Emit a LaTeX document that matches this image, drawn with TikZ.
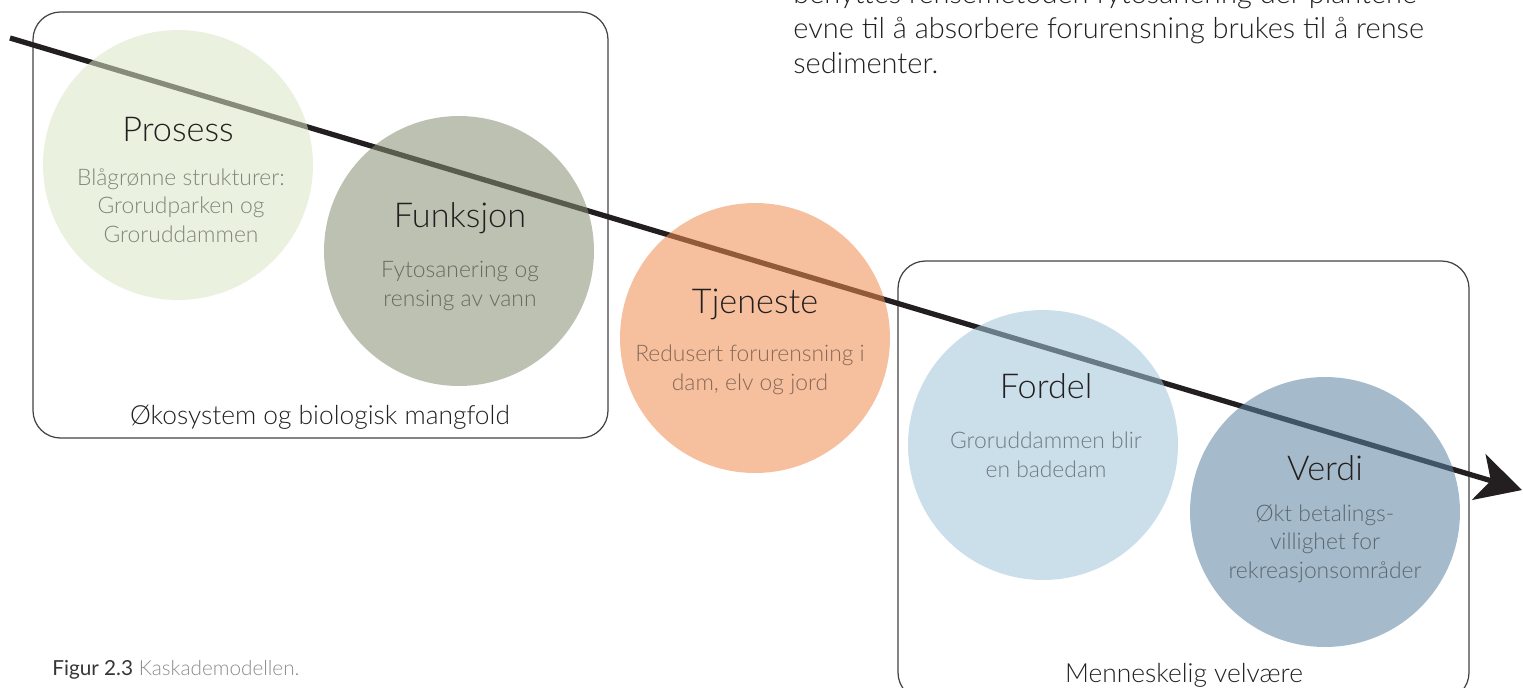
\documentclass[tikz,border=0pt]{standalone}
\usepackage{fontspec}
\setmainfont{Lato}[UprightFont=* Light, BoldFont=*]
\usetikzlibrary{arrows.meta}
\definecolor{prosessc}{RGB}{217,230,195}
\definecolor{funksjonc}{RGB}{135,142,115}
\definecolor{tjenestec}{RGB}{239,139,79}
\definecolor{fordelc}{RGB}{160,197,217}
\definecolor{verdic}{RGB}{91,131,160}
\definecolor{inkc}{RGB}{35,31,32}
\begin{document}
\begin{tikzpicture}[x=0.02cm,y=-0.02cm,
  ball/.style={circle,minimum size=5.4cm,inner sep=0pt,fill opacity=0.55},
  title/.style={anchor=base,inner sep=0pt,text=inkc,font=\fontsize{19.5}{22}\selectfont},
  sub/.style={anchor=base,inner sep=0pt,align=center,text=black,text opacity=0.45,font=\fontsize{13}{16}\selectfont},
  boxlabel/.style={anchor=base,inner sep=0pt,text=inkc,font=\fontsize{15}{18}\selectfont},
  frame/.style={draw=inkc!85,line width=0.7pt,rounded corners=0.55cm}]
\useasboundingbox (0,0) rectangle (1523,687);
\clip (0,0) rectangle (1523,687);
% boxes
\draw[frame] (33,12) rectangle (608,438);
\draw[frame] (898,261) rectangle (1469,700);
\node[boxlabel] (oko) at (320,424) {Økosystem og biologisk mangfold};
\node[boxlabel] (velvaere) at (1184,682) {Menneskelig velvære};
% arrow under the circles
\coordinate (start) at (10,38);
\coordinate (end) at (1522,490);
\draw[line width=3pt,inkc,-{Stealth[length=0.9cm,width=0.95cm,inset=0.25cm]}] (start) -- (end);
% circles
\node[ball,fill=prosessc] (prosess) at (178,165) {};
\node[ball,fill=funksjonc] (funksjon) at (459,251) {};
\node[ball,fill=tjenestec] (tjeneste) at (755,338) {};
\node[ball,fill=fordelc] (fordel) at (1043,445) {};
\node[ball,fill=verdic] (verdi) at (1325,512) {};
% texts (base of a multi-line node = last line)
\node[title] (prosesst) at (178,141) {Prosess};
\node[sub] (prosesss) at (181,242) {Blågrønne strukturer:\\Grorudparken og\\Groruddammen};
\node[title] (funksjont) at (460,227) {Funksjon};
\node[sub] (funksjons) at (460,306) {Fytosanering og\\rensing av vann};
\node[title] (tjenestet) at (755,313) {Tjeneste};
\node[sub] (tjenestes) at (750,390) {Redusert forurensning i\\dam, elv og jord};
\node[title] (fordelt) at (1046,398) {Fordel};
\node[sub] (fordels) at (1046,477) {Groruddammen blir\\en badedam};
\node[title] (verdit) at (1325,480) {Verdi};
\node[sub] (verdis) at (1325,578) {Økt betalings-\\villighet for\\rekreasjonsområder};
% text above
\node[anchor=base west,inner sep=0pt,align=left,text=inkc,font=\fontsize{16.5}{19.9}\selectfont] (note) at (793,73)
  {benyttes rensemetoden fytosanering der plantene\\evne til å absorbere forurensning brukes til å rense\\sedimenter.};
\node[anchor=base west,inner sep=0pt,font=\fontsize{11.8}{14}\selectfont] (caption) at (52,675)
  {\textcolor{inkc!90}{\textbf{Figur 2.3}} \textcolor{black!45}{Kaskademodellen.}};
\end{tikzpicture}
\end{document}
